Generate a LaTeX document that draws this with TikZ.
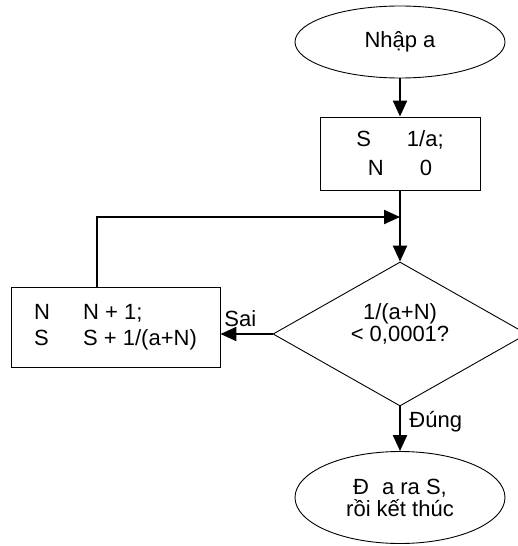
\documentclass[tikz,border=0pt]{standalone}
\usepackage{fontspec}
\setmainfont{Liberation Sans}
\usetikzlibrary{shapes.geometric,arrows.meta}
\begin{document}
\begin{tikzpicture}[x=1pt,y=-1pt,
        font=\fontsize{22}{22}\selectfont,
        terminal/.style={draw, ellipse, line width=0.9pt, inner sep=0pt, align=center},
        procbox/.style={draw, rectangle, line width=0.9pt, inner sep=0pt, align=center},
        decision/.style={draw, diamond, aspect=1.76, line width=0.9pt, inner sep=0pt, align=center, minimum width=254pt, minimum height=144pt},
        flow/.style={line width=2.2pt, -{Triangle[length=16pt,width=14pt]}}]
        \clip (0,0) rectangle (518,546);
        \node[terminal, minimum width=210pt, minimum height=72pt] (start) at (400,42) {Nhập a};
        \node[procbox, minimum width=160pt, minimum height=73pt, font=\fontsize{22}{29}\selectfont] (init) at (400,153.5) {S\hspace{36pt}1/a;\\N\hspace{36pt}0};
        \node[decision, text depth=22pt] (test) at (400,334) {1/(a+N)\\< 0,0001?};
        \node[procbox, minimum width=209pt, minimum height=80pt, align=left, font=\fontsize{22}{26}\selectfont] (update) at (115.5,327) {\makebox[49pt][l]{N}N + 1;\\\makebox[49pt][l]{S}S + 1/(a+N)};
        \node[terminal, minimum width=210pt, minimum height=92pt] (finish) at (400,497.5) {Đ\hspace{13pt}a ra S,\\rồi kết thúc};
        \coordinate (merge) at (400,217);
        % connectors
        \draw[flow] (start) -- (init);
        \draw[line width=2.2pt] (init) -- (merge);
        \draw[flow] (merge) -- (test);
        \draw[flow] (test.west) -- (test.west -| update.east) node[pos=0.62, above=3pt] (no) {Sai};
        \draw[flow] (test) -- (finish) node[pos=0.34, right=5pt] (yes) {Đúng};
        \draw[flow] ([xshift=-18.5pt]update.north) |- (merge);
    \end{tikzpicture}
\end{document}
